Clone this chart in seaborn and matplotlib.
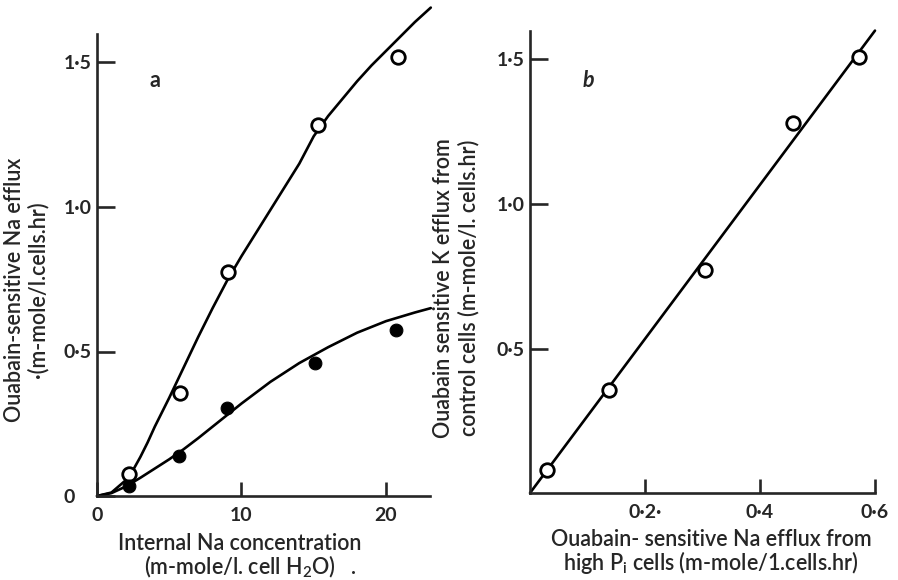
import numpy as np
import pandas as pd
import seaborn as sns
import matplotlib.pyplot as plt

# panel a: internal Na vs ouabain-sensitive Na efflux
open_na = [2.2, 5.75, 9.05, 15.3, 20.8]
open_efflux = [0.075, 0.355, 0.775, 1.285, 1.52]
filled_na = [2.2, 5.65, 9.0, 15.1, 20.7]
filled_efflux = [0.033, 0.137, 0.303, 0.46, 0.575]

# fitted curves
upper_x = [0, 1, 2, 2.5, 3, 3.5, 4, 5, 6, 7, 8, 9, 10, 11, 12, 13, 14, 15, 16, 17, 18, 19, 20, 21, 22, 23.1]
upper_y = [0, 0.012, 0.055, 0.09, 0.135, 0.185, 0.24, 0.34, 0.445, 0.55, 0.65, 0.745, 0.83, 0.91,
           0.99, 1.07, 1.15, 1.245, 1.315, 1.375, 1.435, 1.49, 1.54, 1.59, 1.64, 1.69]
lower_x = [0, 1, 2, 3, 4, 5, 6, 7, 8, 9, 10, 12, 14, 16, 18, 20, 22, 23.1]
lower_y = [0, 0.01, 0.033, 0.063, 0.095, 0.127, 0.162, 0.2, 0.24, 0.28, 0.32, 0.395, 0.46, 0.515,
           0.565, 0.605, 0.635, 0.65]

# panel b: Na efflux (high Pi) vs K efflux (control)
b_x = [0.029, 0.137, 0.304, 0.458, 0.573]
b_y = [0.08, 0.355, 0.77, 1.28, 1.51]
b_line_x = [0, 0.6]
b_line_y = [0, 1.6]

a_yticks = [0, 0.5, 1.0, 1.5]
a_ylabels = ["0", "0·5", "1·0", "1·5"]
a_xticks = [0, 10, 20]
a_xlabels = ["0", "10", "20"]
b_yticks = [0.5, 1.0, 1.5]
b_ylabels = ["0·5", "1·0", "1·5"]
b_xticks = [0.2, 0.4, 0.6]
b_xlabels = ["0·2·", "0·4", "0·6"]

sns.set_style("ticks")
plt.rcParams["font.family"] = ["Lato", "DejaVu Sans"]

W, H = 898, 580
fig = plt.figure(figsize=(8.98, 5.8), dpi=100)

lw = 1.9
ppu = 289     # pixels per y unit
ytop = 1.7


def add_axes(left_px, y0_px, xmax, px_per_x):
    ax = fig.add_axes([left_px / W, (H - y0_px) / H,
                       xmax * px_per_x / W, ytop * ppu / H])
    ax.set_xlim(0, xmax)
    ax.set_ylim(0, ytop)
    return ax


ax1 = add_axes(97, 496, 23.15, 14.45)
sns.lineplot(x=upper_x, y=upper_y, ax=ax1, color="black", lw=lw, clip_on=False)
sns.lineplot(x=lower_x, y=lower_y, ax=ax1, color="black", lw=lw, clip_on=False)
sns.scatterplot(x=open_na, y=open_efflux, ax=ax1, s=95, facecolor="white",
                edgecolor="black", linewidth=2, zorder=5)
sns.scatterplot(x=filled_na, y=filled_efflux, ax=ax1, s=85, color="black",
                edgecolor="black", zorder=5)

ax2 = add_axes(530, 493, 0.605, 575)
sns.lineplot(x=b_line_x, y=b_line_y, ax=ax2, color="black", lw=lw, clip_on=False)
sns.scatterplot(x=b_x, y=b_y, ax=ax2, s=95, facecolor="white",
                edgecolor="black", linewidth=2, zorder=5)

for ax in (ax1, ax2):
    for side in ("top", "right"):
        ax.spines[side].set_visible(False)
    ax.spines["left"].set_linewidth(lw)
    ax.spines["bottom"].set_linewidth(lw)
    ax.spines["left"].set_bounds(0, 1.6)
    ax.patch.set_alpha(0)
    ax.set_xlabel("")
    ax.set_ylabel("")

ax1.spines["bottom"].set_bounds(0, 23.05)
ax2.spines["bottom"].set_bounds(0, 0.6)

ax1.set_yticks(a_yticks, a_ylabels)
ax1.set_xticks(a_xticks, a_xlabels)
ax2.set_yticks(b_yticks, b_ylabels)
ax2.set_xticks(b_xticks, b_xlabels)

for ax in (ax1, ax2):
    ax.tick_params(axis="y", direction="in", length=13, width=lw, pad=24)
    ax.tick_params(axis="x", direction="in", length=10, width=lw, pad=8)
    for lab in ax.get_xticklabels() + ax.get_yticklabels():
        lab.set_fontsize(14)
        lab.set_fontweight("bold")
    for lab in ax.get_yticklabels():
        lab.set_horizontalalignment("left")


def ftext(x, y, s, **kw):
    kw.setdefault("fontweight", "semibold")
    fig.text(x / W, 1 - y / H, s, ha="center", va="center", fontsize=15.5, **kw)


ftext(15, 290, "Ouabain-sensitive Na efflux", rotation=90)
ftext(38, 290, "·(m-mole/l.cells.hr)", rotation=90)
ftext(240, 543, "Internal Na concentration")
ftext(250, 567, "(m-mole/l. cell H$_\\mathregular{2}$O)   .")

ftext(443, 288, "Ouabain sensitive K efflux from", rotation=90)
ftext(469, 288, "control cells (m-mole/l. cells.hr)", rotation=90)
ftext(711, 540, "Ouabain- sensitive Na efflux from")
ftext(711, 563, "high P$_\\mathregular{i}$ cells (m-mole/1.cells.hr)")

ftext(155, 80, "a", fontweight="bold")
ftext(588, 80, "b", fontweight="bold", style="italic")

fig.savefig("out.png", dpi=100)
